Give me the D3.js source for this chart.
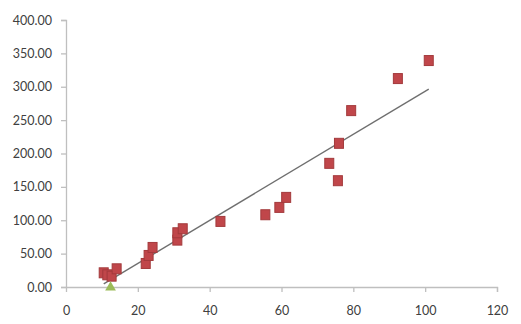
<!DOCTYPE html>
<html>
<head>
<meta charset="utf-8">
<script src="https://cdn.jsdelivr.net/npm/d3@7"></script>
<style>
    body { margin: 0; background: #fff; }
    #scatter { width: 521px; height: 324px; }
    .tick text { font-family: Lato, "Open Sans", sans-serif; font-size: 12.5px; fill: #404040; }
</style>
</head>
<body>
<div id="scatter"></div>
<script>
// data
var xs = [10.5, 11.5, 12.7, 14.1, 22.2, 23, 24.1, 31, 31, 32.5, 43, 55.5, 59.4, 61.3, 73.3, 75.7, 76, 79.4, 92.4, 101];
var ys = [22, 19, 17, 28, 36, 48, 60, 71, 82, 88, 99, 109, 120, 135, 186, 160, 216, 265, 313, 340];
var markX = [12.4];
var markY = [0];
var xTicks = [0, 20, 40, 60, 80, 100, 120];
var yTicks = [0, 50, 100, 150, 200, 250, 300, 350, 400];

function paint() {
    d3.select("svg").remove();
    var margin = { top: 20, right: 24, bottom: 37, left: 66 },
        width = 521 - margin.left - margin.right,
        height = 324 - margin.top - margin.bottom;

    var svg = d3.select("#scatter")
        .append("svg")
        .attr("width", width + margin.left + margin.right)
        .attr("height", height + margin.top + margin.bottom)
        .append("g")
        .attr("transform", "translate(" + margin.left + "," + margin.top + ")");

    var data = xs.map(function (x, i) { return { x: x, y: ys[i] }; });

    var x = d3.scaleLinear().domain([0, 120]).range([0, width]);
    var y = d3.scaleLinear().domain([0, 400]).range([height, 0]);

    // Y axis
    var yAxis = svg.append("g")
        .call(d3.axisLeft(y).tickValues(yTicks).tickSize(5).tickPadding(9).tickFormat(d3.format(".2f")));
    // X axis
    var xAxis = svg.append("g")
        .attr("transform", "translate(0," + height + ")")
        .call(d3.axisBottom(x).tickValues(xTicks).tickSize(5).tickPadding(14));

    [yAxis, xAxis].forEach(function (a) {
        a.select(".domain").attr("stroke", "#bfbfbf").attr("stroke-width", 1.3);
        a.selectAll(".tick line").attr("stroke", "#bfbfbf").attr("stroke-width", 1.3);
    });
    xAxis.select(".tick line").remove(); // no tick at x=0 (y axis there)

    // linear trend line through the square points
    var mx = d3.mean(data, function (d) { return d.x; }),
        my = d3.mean(data, function (d) { return d.y; });
    var sxy = d3.sum(data, function (d) { return (d.x - mx) * (d.y - my); }),
        sxx = d3.sum(data, function (d) { return (d.x - mx) * (d.x - mx); });
    var slope = sxy / sxx, icpt = my - slope * mx;
    var x0 = d3.min(xs), x1 = d3.max(xs);

    svg.append("line")
        .attr("x1", x(x0)).attr("y1", y(slope * x0 + icpt))
        .attr("x2", x(x1)).attr("y2", y(slope * x1 + icpt))
        .attr("stroke", "#6f6f6f")
        .attr("stroke-width", 1.4);

    // squares
    var s = 9;
    svg.append("g")
        .selectAll("rect")
        .data(data)
        .enter()
        .append("rect")
        .attr("x", function (d) { return x(d.x) - s / 2; })
        .attr("y", function (d) { return y(d.y) - s / 2; })
        .attr("width", s)
        .attr("height", s + 1)
        .attr("fill", "#c0464a")
        .attr("stroke", "#a33a3c")
        .attr("stroke-width", 1);

    // triangle
    svg.append("g")
        .selectAll("path")
        .data(markX)
        .enter()
        .append("path")
        .attr("d", d3.symbol().type(d3.symbolTriangle).size(50))
        .attr("transform", function (d, i) { return "translate(" + x(d) + "," + (y(markY[i]) + 0.5) + ")"; })
        .attr("fill", "#9bbb59");
}

paint();
</script>
</body>
</html>
